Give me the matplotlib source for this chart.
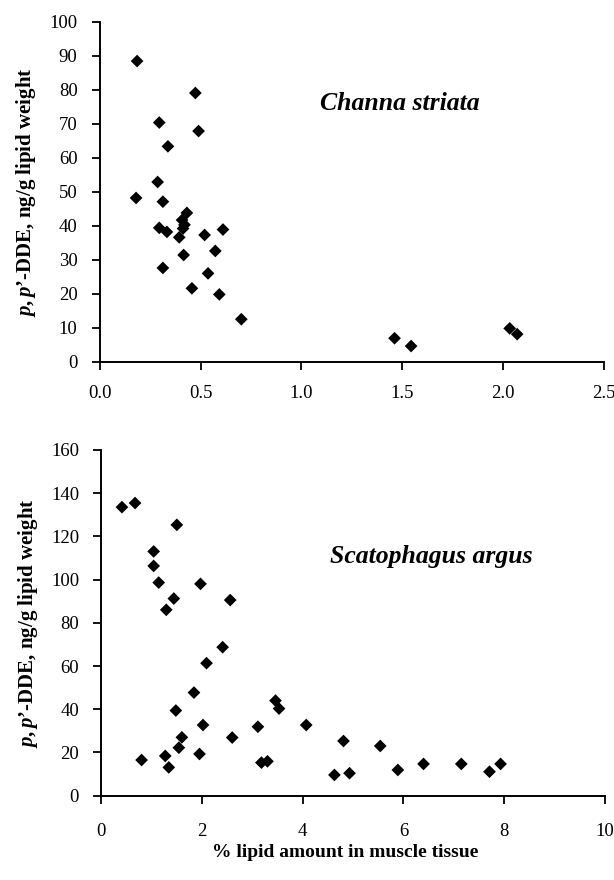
import matplotlib.pyplot as plt
from matplotlib.ticker import FormatStrFormatter

plt.rcParams['font.family'] = ['Liberation Serif', 'DejaVu Serif']
plt.rcParams['mathtext.fontset'] = 'custom'
plt.rcParams['mathtext.it'] = 'Liberation Serif:italic:bold'
plt.rcParams['mathtext.rm'] = 'Liberation Serif:bold'

# Channa striata: % lipid vs p,p'-DDE (ng/g lipid weight)
channa_lipid = [0.185, 0.474, 0.295, 0.49, 0.338, 0.287, 0.18, 0.313, 0.432,
                0.408, 0.42, 0.413, 0.295, 0.333, 0.611, 0.52, 0.394, 0.573,
                0.416, 0.313, 0.537, 0.457, 0.593, 0.702, 1.462, 1.544,
                2.033, 2.07]
channa_dde = [88.5, 79.1, 70.4, 67.9, 63.4, 52.9, 48.2, 47.1, 43.8,
              41.7, 40.3, 39.2, 39.4, 38.2, 38.9, 37.3, 36.6, 32.6,
              31.4, 27.6, 26.0, 21.6, 19.8, 12.5, 6.9, 4.6,
              9.8, 8.1]

# Scatophagus argus
scato_lipid = [0.41, 0.67, 1.50, 1.04, 1.04, 1.14, 1.97, 1.44, 2.56, 1.29,
               2.41, 2.09, 1.84, 1.48, 3.46, 3.53, 2.02, 3.11, 1.60, 2.60,
               1.54, 0.80, 1.27, 1.95, 1.34, 3.18, 3.30, 4.07, 4.63, 4.81,
               4.93, 5.54, 5.89, 6.40, 7.15, 7.71, 7.93]
scato_dde = [133.5, 135.4, 125.3, 113.0, 106.3, 98.6, 98.0, 91.2, 90.5, 86.0,
             68.7, 61.3, 47.7, 39.4, 44.0, 40.3, 32.7, 31.9, 27.0, 26.9,
             22.2, 16.5, 18.4, 19.3, 13.1, 15.3, 15.9, 32.7, 9.6, 25.3,
             10.4, 23.0, 11.9, 14.7, 14.7, 11.1, 14.7]

ylabel = "$p,p$\u2019-DDE, ng/g lipid weight"

fig = plt.figure(figsize=(6.14, 8.8), dpi=100)
ax1 = fig.add_axes([0.1625, 0.589, 0.821, 0.386])
ax2 = fig.add_axes([0.165, 0.0958, 0.820, 0.393])


def style(ax, xpad):
    for side in ['top', 'right']:
        ax.spines[side].set_visible(False)
    for side in ['left', 'bottom']:
        ax.spines[side].set_linewidth(1.4)
    ax.tick_params(direction='out', length=5.5, width=1.3, labelsize=13.5)
    ax.tick_params(axis='y', pad=10.5)
    ax.tick_params(axis='x', pad=xpad)


ax1.scatter(channa_lipid, channa_dde, marker='D', s=42, color='black',
            edgecolors='none', clip_on=False)
ax1.set_xlim(0, 2.5)
ax1.set_ylim(0, 100)
ax1.set_xticks([0, 0.5, 1.0, 1.5, 2.0, 2.5])
ax1.set_yticks(range(0, 101, 10))
ax1.xaxis.set_major_formatter(FormatStrFormatter('%.1f'))
style(ax1, 11)
ax1.set_ylabel(ylabel, fontsize=15, fontweight='bold', labelpad=8)
ax1.text(0.437, 0.76, "Channa striata", transform=ax1.transAxes,
         fontsize=18.5, fontweight='bold', fontstyle='italic', va='center')

ax2.scatter(scato_lipid, scato_dde, marker='D', s=42, color='black',
            edgecolors='none', clip_on=False)
ax2.set_xlim(0, 10)
ax2.set_ylim(0, 160)
ax2.set_xticks(range(0, 11, 2))
ax2.set_yticks(range(0, 161, 20))
style(ax2, 14)
ax2.set_ylabel(ylabel, fontsize=15, fontweight='bold', labelpad=8)
ax2.set_xlabel("% lipid amount in muscle tissue", fontsize=14,
               fontweight='bold', labelpad=5)
ax2.xaxis.set_label_coords(0.485, -0.14)
ax2.text(0.454, 0.693, "Scatophagus argus", transform=ax2.transAxes,
         fontsize=18.5, fontweight='bold', fontstyle='italic', va='center')

fig.savefig("out.png", dpi=100)
